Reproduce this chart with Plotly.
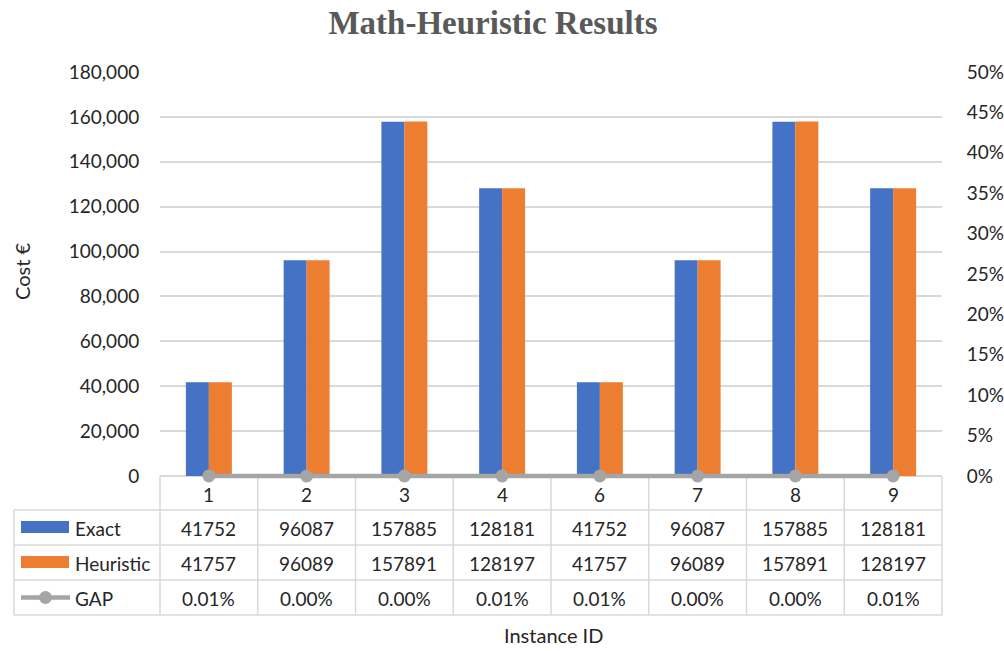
import plotly.graph_objects as go

# Instance data
instances = ["1", "2", "3", "4", "6", "7", "8", "9"]
exact = [41752, 96087, 157885, 128181, 41752, 96087, 157885, 128181]
heuristic = [41757, 96089, 157891, 128197, 41757, 96089, 157891, 128197]
gap = [(h - e) / e for h, e in zip(heuristic, exact)]

cost_ticks = list(range(0, 180001, 20000))
gap_ticks = [i / 100 for i in range(0, 51, 5)]
COST_MAX = 180000
GAP_MAX = 0.5

BLUE = "#4472C4"
ORANGE = "#ED7D31"
GRAY = "#A5A5A5"
GRID = "#D9D9D9"
TEXT = "#262626"
FONT = "Lato"

W, H = 1004, 651
L, R, T, B = 160, 942, 72, 476  # plot area in pixels (B = zero baseline)
PB = 481  # plot area extends a few px under the baseline so the GAP line is not clipped
under = (PB - B) / (B - T)


def fx(p):
    return (p - L) / (R - L)


def fy(p):
    return (PB - p) / (PB - T)


fig = go.Figure()
fig.add_trace(go.Bar(x=instances, y=exact, name="Exact", marker_color=BLUE,
                     marker_line_width=0))
fig.add_trace(go.Bar(x=instances, y=heuristic, name="Heuristic", marker_color=ORANGE,
                     marker_line_width=0))
fig.add_trace(go.Scatter(x=instances, y=gap, name="GAP", yaxis="y2", mode="lines+markers",
                         line=dict(color=GRAY, width=4.5), cliponaxis=False,
                         marker=dict(color=GRAY, size=13)))

shapes = []
annotations = []
n = len(instances)
rows = [476, 510, 545, 580, 615]
line_style = dict(color=GRID, width=1.5)

# data table grid
shapes.append(dict(type="line", xref="paper", yref="paper", x0=fx(L), x1=fx(R),
                   y0=fy(rows[0]), y1=fy(rows[0]), line=line_style, layer="below"))
for r in rows[1:]:
    shapes.append(dict(type="line", xref="paper", yref="paper", x0=fx(14), x1=fx(R),
                       y0=fy(r), y1=fy(r), line=line_style))
shapes.append(dict(type="line", xref="paper", yref="paper", x0=fx(14), x1=fx(14),
                   y0=fy(rows[1]), y1=fy(rows[4]), line=line_style))
for k in range(n + 1):
    shapes.append(dict(type="line", xref="paper", yref="paper", x0=k / n, x1=k / n,
                       y0=fy(rows[0]), y1=fy(rows[4]), line=line_style, layer="below"))

# legend keys inside the table
shapes.append(dict(type="rect", xref="paper", yref="paper", x0=fx(21), x1=fx(69),
                   y0=fy(521), y1=fy(533), fillcolor=BLUE, line_width=0))
shapes.append(dict(type="rect", xref="paper", yref="paper", x0=fx(21), x1=fx(69),
                   y0=fy(556), y1=fy(568), fillcolor=ORANGE, line_width=0))
shapes.append(dict(type="line", xref="paper", yref="paper", x0=fx(21), x1=fx(70),
                   y0=fy(597.5), y1=fy(597.5), line=dict(color=GRAY, width=4.5)))
shapes.append(dict(type="circle", xref="paper", yref="paper", x0=fx(39), x1=fx(52),
                   y0=fy(591), y1=fy(604), fillcolor=GRAY, line_width=0))

row_labels = ["Exact", "Heuristic", "GAP"]
row_values = [[str(v) for v in exact], [str(v) for v in heuristic],
              [f"{g * 100:.2f}%" for g in gap]]
cell_font = dict(family=FONT, size=19, color=TEXT)

for i, cat in enumerate(instances):
    annotations.append(dict(text=cat, xref="paper", yref="paper", x=(i + 0.5) / n,
                            y=fy((rows[0] + rows[1]) / 2 + 1), showarrow=False,
                            font=cell_font, xanchor="center", yanchor="middle"))
for j, (lab, vals) in enumerate(zip(row_labels, row_values)):
    yc = fy((rows[j + 1] + rows[j + 2]) / 2 + 1)
    annotations.append(dict(text=lab, xref="paper", yref="paper", x=fx(73), y=yc,
                            showarrow=False, font=cell_font, xanchor="left",
                            yanchor="middle"))
    for i, v in enumerate(vals):
        annotations.append(dict(text=v, xref="paper", yref="paper", x=(i + 0.5) / n,
                                y=yc, showarrow=False, font=cell_font,
                                xanchor="center", yanchor="middle"))

# axis titles
annotations.append(dict(text="Cost €", xref="paper", yref="paper", x=fx(22), y=fy(272),
                        showarrow=False, textangle=-90, font=dict(family=FONT, size=20,
                                                                  color=TEXT),
                        xanchor="center", yanchor="middle"))
annotations.append(dict(text="Instance ID", xref="paper", yref="paper", x=fx(553),
                        y=fy(635), showarrow=False,
                        font=dict(family=FONT, size=20, color=TEXT),
                        xanchor="center", yanchor="middle"))

fig.update_layout(
    width=W, height=H,
    margin=dict(l=L, r=W - R, t=T, b=H - PB, pad=0, autoexpand=False),
    paper_bgcolor="white", plot_bgcolor="white",
    barmode="group", bargap=0.53, bargroupgap=0,
    showlegend=False,
    title=dict(text="<b>Math-Heuristic Results</b>", x=493 / W, xref="container",
               xanchor="center", y=1 - 22 / H, yanchor="middle",
               font=dict(family="Liberation Serif", size=33, color="#595959")),
    xaxis=dict(type="category", categoryorder="array", categoryarray=instances,
               showticklabels=False, showgrid=False, zeroline=False, showline=False,
               ticks="", automargin=False),
    yaxis=dict(range=[-COST_MAX * under, COST_MAX], tickvals=cost_ticks, tickformat=",d",
               showgrid=True, gridcolor=GRID, gridwidth=1.5, zeroline=False,
               showline=False, ticks="outside", ticklen=16, automargin=False,
               tickcolor="rgba(0,0,0,0)",
               tickfont=dict(family=FONT, size=19, color=TEXT)),
    yaxis2=dict(range=[-GAP_MAX * under, GAP_MAX], tickvals=gap_ticks, tickformat=".0%",
                overlaying="y", side="right", showgrid=False, zeroline=False,
                showline=False, ticks="outside", ticklen=20, automargin=False,
                tickcolor="rgba(0,0,0,0)",
                tickfont=dict(family=FONT, size=19, color=TEXT)),
    shapes=shapes,
    annotations=annotations,
)

fig.write_html("out.html")
